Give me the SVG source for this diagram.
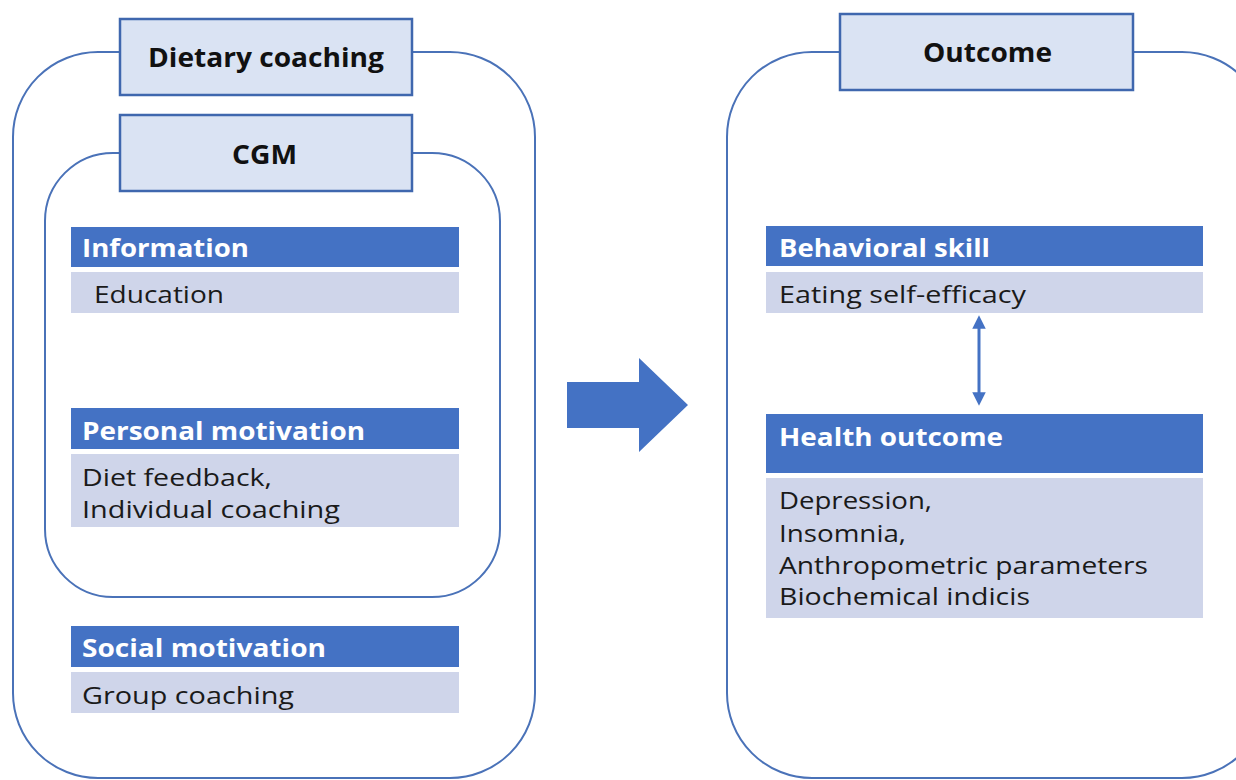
<svg xmlns="http://www.w3.org/2000/svg" width="1236" height="780" viewBox="0 0 1236 780">
  <defs>
    <style>
      .frame { fill: none; stroke: #4A72B8; stroke-width: 2; }
      .title-box { fill: #DAE3F3; stroke: #3F67AE; stroke-width: 2.5; }
      .title { font-family: "Open Sans", "Noto Sans", sans-serif; font-weight: 700; font-size: 27px; fill: #111; }
      .head { fill: #4472C4; }
      .body { fill: #CFD5EA; }
      .head-text { font-family: "Open Sans", "Noto Sans", sans-serif; font-weight: 700; font-size: 25px; fill: #fff; }
      .body-text { font-family: "Open Sans", "Noto Sans", sans-serif; font-size: 23.5px; fill: #1a1a1a; }
      .link { stroke: #4472C4; stroke-width: 3; fill: none; }
    </style>
    <marker id="tip" viewBox="0 0 10 10" refX="5" refY="5" markerWidth="4.5" markerHeight="4.5" orient="auto-start-reverse">
      <path d="M0,0 L10,5 L0,10 Z" fill="#4472C4"/>
    </marker>
  </defs>
  <rect width="1236" height="780" fill="#fff"/>

  <!-- Left panel: dietary coaching -->
  <g id="dietary-coaching">
    <rect class="frame" x="13" y="52" width="522" height="726" rx="85" ry="85"/>
    <rect class="title-box" x="120" y="19" width="292" height="76"/>
    <text class="title" x="148" y="67" textLength="236" lengthAdjust="spacingAndGlyphs">Dietary coaching</text>
  </g>

  <g id="cgm">
    <rect class="frame" x="45" y="153" width="455" height="444" rx="68" ry="68"/>
    <rect class="title-box" x="120" y="115" width="292" height="76"/>
    <text class="title" x="232" y="164" textLength="65" lengthAdjust="spacingAndGlyphs">CGM</text>
  </g>

  <g id="information">
    <rect class="head" x="71" y="227" width="388" height="40"/>
    <text class="head-text" x="82" y="257" textLength="167" lengthAdjust="spacingAndGlyphs">Information</text>
    <rect class="body" x="71" y="272" width="388" height="41"/>
    <text class="body-text" x="94" y="303" textLength="130" lengthAdjust="spacingAndGlyphs">Education</text>
  </g>

  <g id="personal-motivation">
    <rect class="head" x="71" y="408" width="388" height="41"/>
    <text class="head-text" x="82" y="440" textLength="283" lengthAdjust="spacingAndGlyphs">Personal motivation</text>
    <rect class="body" x="71" y="454" width="388" height="73"/>
    <text class="body-text" x="82" y="486" textLength="190" lengthAdjust="spacingAndGlyphs">Diet feedback,</text>
    <text class="body-text" x="82" y="518" textLength="258" lengthAdjust="spacingAndGlyphs">Individual coaching</text>
  </g>

  <g id="social-motivation">
    <rect class="head" x="71" y="626" width="388" height="41"/>
    <text class="head-text" x="82" y="657" textLength="244" lengthAdjust="spacingAndGlyphs">Social motivation</text>
    <rect class="body" x="71" y="672" width="388" height="41"/>
    <text class="body-text" x="82" y="704" textLength="212" lengthAdjust="spacingAndGlyphs">Group coaching</text>
  </g>

  <!-- Right panel: outcome -->
  <g id="outcome">
    <rect class="frame" x="727" y="52" width="540" height="726" rx="85" ry="85"/>
    <rect class="title-box" x="840" y="14" width="293" height="76"/>
    <text class="title" x="923" y="62" textLength="129" lengthAdjust="spacingAndGlyphs">Outcome</text>
  </g>

  <g id="behavioral-skill">
    <rect class="head" x="766" y="226" width="437" height="40"/>
    <text class="head-text" x="779" y="257" textLength="211" lengthAdjust="spacingAndGlyphs">Behavioral skill</text>
    <rect class="body" x="766" y="272" width="437" height="41"/>
    <text class="body-text" x="779" y="303" textLength="247" lengthAdjust="spacingAndGlyphs">Eating self-efficacy</text>
  </g>

  <g id="health-outcome">
    <rect class="head" x="766" y="414" width="437" height="59"/>
    <text class="head-text" x="779" y="446" textLength="224" lengthAdjust="spacingAndGlyphs">Health outcome</text>
    <rect class="body" x="766" y="478" width="437" height="140"/>
    <text class="body-text" x="779" y="509" textLength="153" lengthAdjust="spacingAndGlyphs">Depression,</text>
    <text class="body-text" x="779" y="542" textLength="127" lengthAdjust="spacingAndGlyphs">Insomnia,</text>
    <text class="body-text" x="779" y="574" textLength="369" lengthAdjust="spacingAndGlyphs">Anthropometric parameters</text>
    <text class="body-text" x="779" y="605" textLength="251" lengthAdjust="spacingAndGlyphs">Biochemical indicis</text>
  </g>

  <!-- Connectors -->
  <g id="connectors">
    <path d="M567,382 H639 V358 L688,405 L639,452 V428 H567 Z" fill="#4472C4"/>
    <line class="link" x1="979" y1="322" x2="979" y2="399" marker-start="url(#tip)" marker-end="url(#tip)"/>
  </g>
</svg>
